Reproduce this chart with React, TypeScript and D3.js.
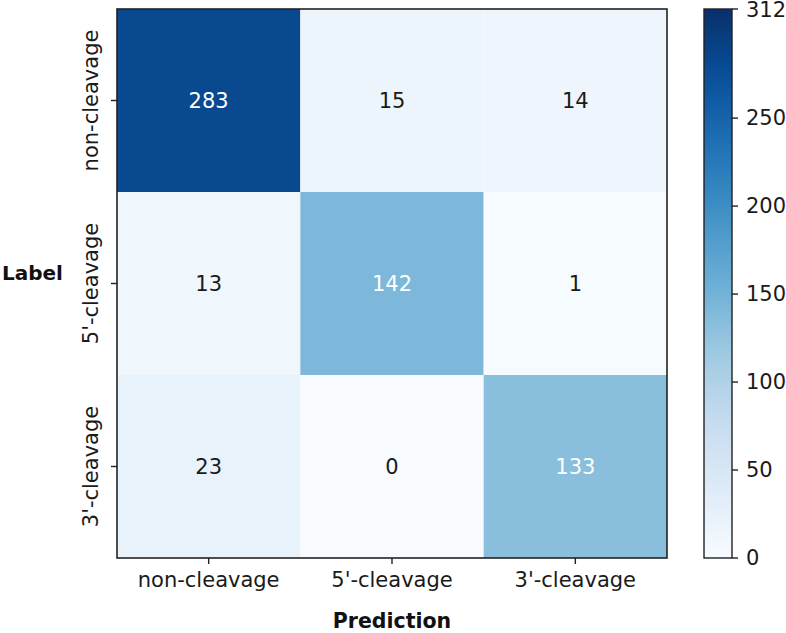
import React from 'react';
import * as d3 from 'd3';

const labels = ["non-cleavage", "5'-cleavage", "3'-cleavage"];
const matrix = [
  [283, 15, 14],
  [13, 142, 1],
  [23, 0, 133],
];
const colorMax = 312;
const colorTicks = [0, 50, 100, 150, 200, 250, 312];

// matplotlib "Blues" segment colours
const blues = ['#f7fbff', '#deebf7', '#c6dbef', '#9ecae1', '#6baed6', '#4292c6', '#2171b5', '#08519c', '#08306b'];

const W = 786;
const H = 633;
const plot = { left: 117, right: 667, top: 9, bottom: 558 };
const bar = { left: 704, right: 732 };
const font = '"DejaVu Sans", Verdana, sans-serif';
const fs = 21;

const App: React.FC = () => {
  const x = d3.scaleBand<string>().domain(labels).range([plot.left, plot.right]);
  const y = d3.scaleBand<string>().domain(labels).range([plot.top, plot.bottom]);
  const color = d3.scaleLinear<string>()
    .domain(blues.map((_, i) => (i / (blues.length - 1)) * colorMax))
    .range(blues)
    .interpolate(d3.interpolateRgb);
  const cy = d3.scaleLinear().domain([0, colorMax]).range([plot.bottom, plot.top]);

  const cells = matrix.flatMap((row, i) => row.map((v, j) => ({ row: labels[i], col: labels[j], v })));
  const stops = d3.range(0, 1.0001, 0.05);

  return (
    <svg width={W} height={H} style={{ position: 'absolute', left: 0, top: 0, background: '#fff' }} fontFamily={font}>
      <defs>
        <linearGradient id="cbar" x1="0" y1="1" x2="0" y2="0">
          {stops.map(t => (
            <stop key={t} offset={`${t * 100}%`} stopColor={color(t * colorMax)} />
          ))}
        </linearGradient>
      </defs>

      {cells.map(c => (
        <g key={c.row + c.col}>
          <rect x={x(c.col)} y={y(c.row)} width={x.bandwidth()} height={y.bandwidth()} fill={color(c.v)} />
          <text
            x={(x(c.col) ?? 0) + x.bandwidth() / 2}
            y={(y(c.row) ?? 0) + y.bandwidth() / 2}
            textAnchor="middle"
            dominantBaseline="central"
            fontSize={fs}
            fill={c.v > colorMax / 3 ? '#fff' : '#1a1a1a'}
          >{c.v}</text>
        </g>
      ))}
      <rect x={plot.left} y={plot.top} width={plot.right - plot.left} height={plot.bottom - plot.top}
        fill="none" stroke="#222" strokeWidth={1.6} />

      {/* x axis */}
      {labels.map(l => {
        const cx = (x(l) ?? 0) + x.bandwidth() / 2;
        return (
          <g key={'x' + l}>
            <line x1={cx} x2={cx} y1={plot.bottom} y2={plot.bottom + 6} stroke="#222" strokeWidth={1.4} />
            <text x={cx} y={587} textAnchor="middle" fontSize={fs} fill="#1a1a1a">{l}</text>
          </g>
        );
      })}
      <text x={(plot.left + plot.right) / 2} y={628} textAnchor="middle" fontSize={20.5} fontWeight="bold" fill="#111">Prediction</text>

      {/* y axis */}
      {labels.map(l => {
        const c = (y(l) ?? 0) + y.bandwidth() / 2;
        return (
          <g key={'y' + l}>
            <line x1={plot.left - 6} x2={plot.left} y1={c} y2={c} stroke="#222" strokeWidth={1.4} />
            <text transform={`translate(98,${c}) rotate(-90)`} textAnchor="middle" fontSize={fs} fill="#1a1a1a">{l}</text>
          </g>
        );
      })}
      <text x={2} y={280} fontSize={20} fontWeight="bold" fill="#111">Label</text>

      {/* colorbar */}
      <rect x={bar.left} y={plot.top} width={bar.right - bar.left} height={plot.bottom - plot.top} fill="url(#cbar)" />
      <rect x={bar.left} y={plot.top} width={bar.right - bar.left} height={plot.bottom - plot.top}
        fill="none" stroke="#222" strokeWidth={1.4} />
      {colorTicks.map(t => (
        <g key={'c' + t}>
          <line x1={bar.right} x2={bar.right + 6} y1={cy(t)} y2={cy(t)} stroke="#222" strokeWidth={1.4} />
          <text x={bar.right + 14} y={cy(t) + (t === colorMax ? 1 : 0)} dominantBaseline="central" fontSize={fs} fill="#1a1a1a">{t}</text>
        </g>
      ))}
    </svg>
  );
};

export default App;
